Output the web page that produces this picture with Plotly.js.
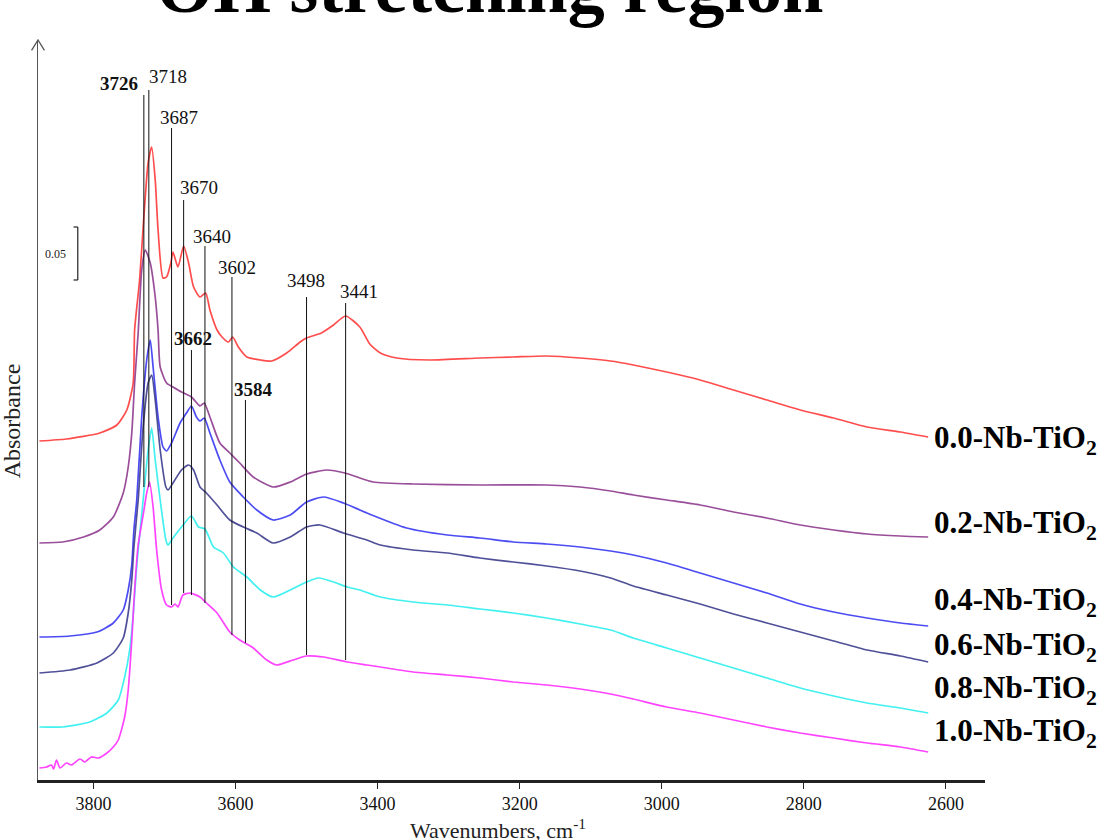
<!DOCTYPE html>
<html>
<head>
<meta charset="utf-8">
<script src="https://cdn.plot.ly/plotly-3.0.1.min.js"></script>
<style>html,body{margin:0;padding:0;background:#fff;}#chart{width:1113px;height:840px;}</style>
</head>
<body>
<div id="chart"></div>
<script>
// ---- data (wavenumber, cm-1 ; absorbance, offset a.u.) ----
const seriesNames = ['0.0-Nb-TiO<sub>2</sub>','0.2-Nb-TiO<sub>2</sub>','0.4-Nb-TiO<sub>2</sub>','0.6-Nb-TiO<sub>2</sub>','0.8-Nb-TiO<sub>2</sub>','1.0-Nb-TiO<sub>2</sub>'];
const seriesColors = ['#ff3a3a','#8e3b8e','#3838f2','#3d3d8e','#2eeeee','#ff30ff'];

const wn00 = [3876,3838,3791,3767,3753,3744,3742,3735,3729,3723,3718,3713,3709,3702,3697,3691,3688,3681,3673,3666,3659,3650,3642,3636,3626,3619,3610,3604,3596,3584,3565,3549,3528,3509,3500,3479,3462,3445,3425,3411,3396,3373,3326,3256,3209,3162,3115,3072,3040,2993,2946,2899,2852,2805,2758,2711,2664,2625];
const ab00 = [.339,.341,.347,.355,.370,.397,.450,.500,.563,.617,.633,.600,.550,.502,.503,.517,.528,.513,.534,.517,.493,.483,.487,.470,.450,.443,.438,.443,.433,.423,.420,.419,.427,.438,.442,.447,.455,.464,.453,.436,.427,.422,.420,.422,.423,.424,.422,.419,.415,.408,.400,.390,.380,.370,.362,.353,.348,.343];

const wn02 = [3876,3843,3814,3791,3772,3758,3751,3746,3742,3737,3732,3727,3720,3713,3709,3706,3697,3688,3676,3662,3650,3644,3636,3622,3608,3594,3575,3547,3523,3500,3472,3446,3425,3406,3350,3256,3162,3115,3072,3040,2993,2946,2899,2852,2805,2758,2711,2664,2625];
const ab02 = [.237,.238,.243,.250,.263,.287,.313,.347,.397,.447,.510,.530,.517,.483,.450,.413,.397,.393,.388,.383,.374,.377,.363,.337,.327,.317,.303,.293,.298,.306,.310,.307,.302,.298,.296,.295,.295,.293,.289,.285,.280,.275,.268,.262,.255,.250,.246,.244,.243];

const wn04 = [3876,3833,3795,3772,3758,3751,3746,3743,3739,3732,3725,3720,3716,3709,3702,3697,3690,3678,3669,3662,3655,3650,3644,3636,3622,3608,3589,3570,3547,3523,3500,3476,3448,3415,3359,3302,3256,3209,3162,3115,3072,3040,2993,2946,2899,2852,2805,2758,2711,2664,2625];
const ab04 = [.143,.144,.148,.157,.170,.190,.215,.250,.280,.363,.420,.440,.413,.363,.333,.329,.337,.357,.367,.374,.363,.359,.362,.347,.320,.298,.283,.270,.260,.265,.278,.283,.277,.267,.252,.245,.242,.238,.236,.233,.229,.225,.217,.207,.197,.187,.176,.168,.162,.157,.154];

const wn06 = [3876,3833,3795,3772,3758,3751,3746,3743,3737,3730,3723,3718,3713,3706,3698,3695,3688,3676,3666,3659,3650,3641,3626,3608,3589,3570,3547,3523,3500,3481,3448,3415,3396,3350,3302,3256,3209,3162,3115,3072,3040,2993,2946,2899,2852,2805,2758,2711,2664,2625];
const ab06 = [.107,.110,.117,.127,.142,.167,.200,.233,.280,.353,.397,.405,.380,.330,.293,.290,.297,.310,.315,.310,.293,.287,.275,.260,.253,.247,.237,.243,.253,.255,.247,.240,.235,.230,.227,.222,.218,.214,.209,.202,.194,.185,.176,.166,.157,.148,.139,.130,.124,.118];

const wn08 = [3876,3843,3805,3781,3765,3756,3749,3744,3740,3737,3730,3723,3718,3713,3706,3698,3695,3688,3676,3662,3652,3643,3631,3617,3603,3584,3565,3547,3523,3500,3483,3462,3443,3425,3396,3350,3302,3256,3209,3162,3115,3072,3040,2993,2946,2899,2852,2805,2758,2711,2664,2625];
const ab08 = [.053,.053,.058,.067,.080,.103,.130,.165,.205,.230,.280,.330,.352,.320,.280,.240,.235,.242,.253,.264,.253,.251,.233,.227,.213,.203,.190,.183,.190,.198,.202,.198,.193,.190,.183,.178,.175,.171,.167,.162,.156,.150,.142,.132,.122,.112,.102,.092,.084,.077,.072,.067];

const wn10 = [3876,3866,3859,3856,3852,3847,3838,3831,3819,3812,3803,3793,3781,3772,3765,3756,3751,3746,3742,3737,3730,3725,3721,3716,3711,3704,3697,3690,3685,3681,3674,3664,3650,3641,3626,3608,3594,3575,3556,3542,3519,3500,3476,3443,3415,3396,3350,3302,3256,3209,3162,3115,3072,3040,2993,2946,2899,2852,2805,2758,2711,2664,2625];
const ab10 = [.012,.013,.015,.011,.020,.012,.017,.015,.021,.018,.023,.022,.027,.033,.040,.063,.090,.140,.190,.235,.265,.287,.298,.273,.230,.190,.175,.173,.176,.173,.185,.187,.183,.177,.167,.148,.140,.132,.120,.115,.120,.124,.123,.118,.115,.113,.108,.105,.102,.098,.095,.091,.086,.081,.073,.067,.060,.053,.047,.042,.037,.033,.028];

const seriesWn = [wn00, wn02, wn04, wn06, wn08, wn10];
const seriesAb = [ab00, ab02, ab04, ab06, ab08, ab10];
const seriesLabelAb = [.340,.255,.178,.133,.090,.047];
const seriesLabelWn = 2619;

// peak markers
const peakLabels = ['3726','3718','3687','3670','3662','3640','3602','3584','3498','3441'];
const peakBold   = [true,false,false,false,true,false,false,true,false,false];
const peakWn     = [3729,3722,3690,3673,3662,3643,3605,3586,3500,3445];
const peakTop    = [.685,.690,.652,.580,.430,.534,.503,.380,.483,.477];
const peakBottom = [.293,.293,.175,.187,.185,.177,.145,.137,.125,.120];
const peakLabelWn = [3764,3695,3680,3651,3660,3633,3598,3575,3501,3426];
const peakLabelAb = [.697,.704,.663,.593,.442,.544,.513,.391,.500,.489];

// scale bar
const scaleBarWn = 3822;
const scaleBarAb = [0.500, 0.553];
const scaleBarText = '0.05';

const xTicks = [3800,3600,3400,3200,3000,2800,2600];

// ---- build ----
const SERIF = '"Liberation Serif", "Times New Roman", serif';
const traces = seriesWn.map((w, i) => ({
  x: w, y: seriesAb[i], type: 'scatter', mode: 'lines',
  line: {color: seriesColors[i], width: 1.7, shape: 'spline', smoothing: 0.6},
  opacity: 0.9, hoverinfo: 'skip', name: seriesNames[i]
}));

const shapes = [];
const annotations = [];
peakWn.forEach((w, i) => {
  shapes.push({type:'line', xref:'x', yref:'y', x0:w, x1:w, y0:peakBottom[i], y1:peakTop[i], line:{color:'#111', width:1}});
  annotations.push({xref:'x', yref:'y', x:peakLabelWn[i], y:peakLabelAb[i], showarrow:false,
    text: peakBold[i] ? '<b>'+peakLabels[i]+'</b>' : peakLabels[i],
    font:{family:SERIF, size:19, color:'#111'}, xanchor:'center', yanchor:'middle'});
});
seriesNames.forEach((n, i) => {
  annotations.push({xref:'x', yref:'y', x:seriesLabelWn, y:seriesLabelAb[i], showarrow:false,
    text:'<b>'+n+'</b>', font:{family:SERIF, size:31, color:'#000'}, xanchor:'left', yanchor:'middle'});
});
// scale bar
shapes.push({type:'line', xref:'x', yref:'y', x0:scaleBarWn, x1:scaleBarWn, y0:scaleBarAb[0], y1:scaleBarAb[1], line:{color:'#222', width:1.2}});
shapes.push({type:'line', xref:'x', yref:'y', x0:scaleBarWn, x1:scaleBarWn+6, y0:scaleBarAb[0], y1:scaleBarAb[0], line:{color:'#222', width:1.2}});
shapes.push({type:'line', xref:'x', yref:'y', x0:scaleBarWn, x1:scaleBarWn+6, y0:scaleBarAb[1], y1:scaleBarAb[1], line:{color:'#222', width:1.2}});
annotations.push({xref:'x', yref:'y', x:3853, y:(scaleBarAb[0]+scaleBarAb[1])/2, showarrow:false, text:scaleBarText,
  font:{family:SERIF, size:12, color:'#222'}, xanchor:'center', yanchor:'middle'});
// y-axis arrow head
shapes.push({type:'path', xref:'paper', yref:'paper', path:'M -0.0068 0.986 L 0 1 L 0.0068 0.986', line:{color:'#555', width:1.3}});
// titles
annotations.push({xref:'paper', yref:'paper', x:0.477, y:1.013, xanchor:'center', yanchor:'bottom', showarrow:false,
  text:'<b>OH stretching region</b>', font:{family:SERIF, size:74, color:'#000'}});
annotations.push({xref:'paper', yref:'paper', x:-0.0275, y:0.486, xanchor:'center', yanchor:'middle', showarrow:false,
  text:'Absorbance', textangle:-90, font:{family:SERIF, size:24, color:'#222'}});
annotations.push({xref:'paper', yref:'paper', x:0.486, y:-0.066, xanchor:'center', yanchor:'middle', showarrow:false,
  text:'Wavenumbers, cm<sup>-1</sup>', font:{family:SERIF, size:22, color:'#222'}});

const layout = {
  width:1113, height:840, margin:{l:38, r:128, t:40, b:60},
  font:{family:SERIF, color:'#222'},
  paper_bgcolor:'#fff', plot_bgcolor:'#fff', showlegend:false,
  xaxis:{range:[3878,2545], tickvals:xTicks, ticktext:xTicks.map(String), ticks:'outside', ticklen:6, tickwidth:1, tickcolor:'#222',
    showline:true, linewidth:2.5, linecolor:'#222', showgrid:false, zeroline:false,
    tickfont:{family:SERIF, size:18, color:'#111'}},
  yaxis:{range:[0,0.74], showticklabels:false, ticks:'', showline:true, linewidth:1.5, linecolor:'#555', showgrid:false, zeroline:false},
  shapes:shapes, annotations:annotations
};
Plotly.newPlot('chart', traces, layout, {displayModeBar:false, staticPlot:true});
</script>
</body>
</html>
